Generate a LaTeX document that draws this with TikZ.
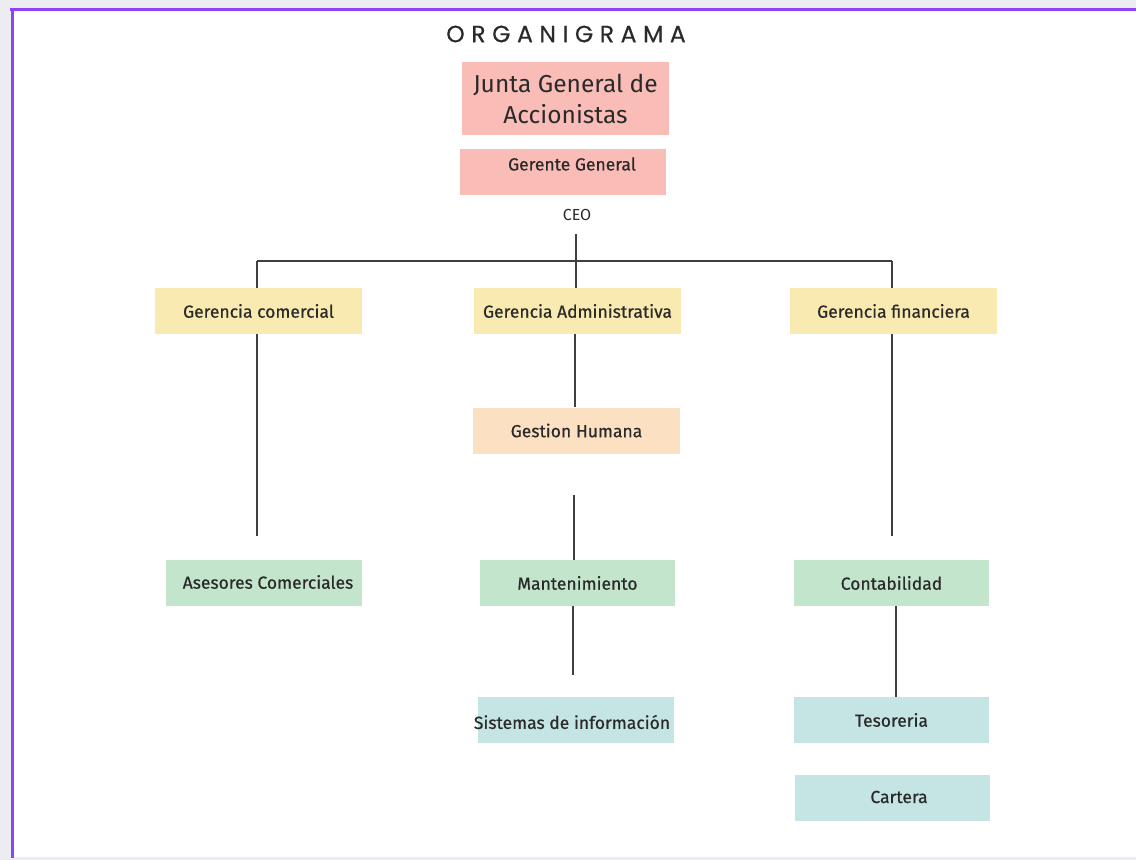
\documentclass[tikz,border=0pt]{standalone}
\usepackage{fontspec}
\setmainfont{Fira Sans}
\newfontfamily\medfont[FakeBold=0.6]{Fira Sans}
\newfontfamily\titlefont[LetterSpace=28,FakeBold=0.4]{Poppins}
\definecolor{bgout}{HTML}{ECEDF0}
\definecolor{purp}{HTML}{8E44F2}
\definecolor{pinkbox}{HTML}{F9BCB6}
\definecolor{yelbox}{HTML}{F8EAB0}
\definecolor{peachbox}{HTML}{FCE0C2}
\definecolor{greenbox}{HTML}{C3E5CC}
\definecolor{tealbox}{HTML}{C4E5E3}
\definecolor{txt}{HTML}{2A2A2A}
\definecolor{ln}{HTML}{3F3F3F}
\tikzset{
  box/.style={draw=none, minimum width=#1, minimum height=46pt, inner sep=0pt, text=txt, font=\medfont\fontsize{17.5}{20}\selectfont},
  box/.default=206pt,
  lbl/.style={text=txt, inner sep=0pt, font=\medfont\fontsize{17.5}{20}\selectfont},
  conn/.style={draw=ln, line width=1.1pt},
}
\begin{document}
\begin{tikzpicture}[x=1pt,y=-1pt]
\useasboundingbox (0,0) rectangle (1136,860);
\fill[bgout] (0,0) rectangle (1136,860);
\fill[white] (12,9) rectangle (1136,857);
\draw[purp, line width=3pt] (10,9.5) -- (1136,9.5);
\draw[purp, line width=2.2pt] (12.5,8) -- (12.5,858);
% title
\node[text=txt, font=\titlefont\fontsize{23.5}{26}\selectfont] (title) at (566,34) {ORGANIGRAMA};
% top boxes
\node[box=207pt, minimum height=73pt, fill=pinkbox, align=center, font=\fontsize{24.5}{31}\selectfont] (junta) at (565.5,98.5) {Junta General de\\Accionistas};
\node[box=206pt, fill=pinkbox] (gg) at (563,172) {};
\node[lbl] (ggt) at (572,164) {Gerente General};
\node[text=txt, font=\fontsize{16}{18}\selectfont, inner sep=0pt] (ceo) at (577,215) {CEO};
% gerencias
\node[box=207pt, fill=yelbox] (gcom) at (258.5,311) {Gerencia comercial};
\node[box=207pt, fill=yelbox] (gadm) at (577.5,311) {Gerencia Administrativa};
\node[box=207pt, fill=yelbox] (gfin) at (893.5,311) {Gerencia financiera};
\node[box=207pt, fill=peachbox] (gh) at (576.5,430.5) {Gestion Humana};
\node[box=196pt, fill=greenbox] (ases) at (264,583) {};
\node[lbl] (asest) at (268,582) {Asesores Comerciales};
\node[box=195pt, fill=greenbox] (mant) at (577.5,583) {Mantenimiento};
\node[box=195pt, fill=greenbox] (cont) at (891.5,583) {Contabilidad};
\node[box=196pt, fill=tealbox] (sist) at (576,720) {};
\node[lbl] (sistt) at (572,722) {Sistemas de información};
\node[box=195pt, fill=tealbox] (teso) at (891.5,720) {Tesoreria};
\node[box=195pt, fill=tealbox] (cart) at (892.5,798) {};
\node[lbl] (cartt) at (899,797) {Cartera};
% connectors
\coordinate (ceoB) at (576,234);
\coordinate (busL) at (257,261);
\coordinate (busR) at (892,261);
\draw[conn] (ceoB) -- (576,288);
\draw[conn] (busL) -- (busR);
\draw[conn] (busL) -- (busL |- gcom.north);
\draw[conn] (busR) -- (busR |- gfin.north);
\coordinate (a1) at (257,536);
\draw[conn] (a1 |- gcom.south) -- (a1);
\draw[conn] (575,334) -- (575,407);
\coordinate (m0) at (574,495);
\draw[conn] (m0) -- (m0 |- mant.north);
\coordinate (f1) at (892,536);
\draw[conn] (f1 |- gfin.south) -- (f1);
\coordinate (m1) at (573,675);
\draw[conn] (m1 |- mant.south) -- (m1);
\coordinate (c1) at (896,697);
\draw[conn] (c1 |- cont.south) -- (c1);
\end{tikzpicture}
\end{document}
